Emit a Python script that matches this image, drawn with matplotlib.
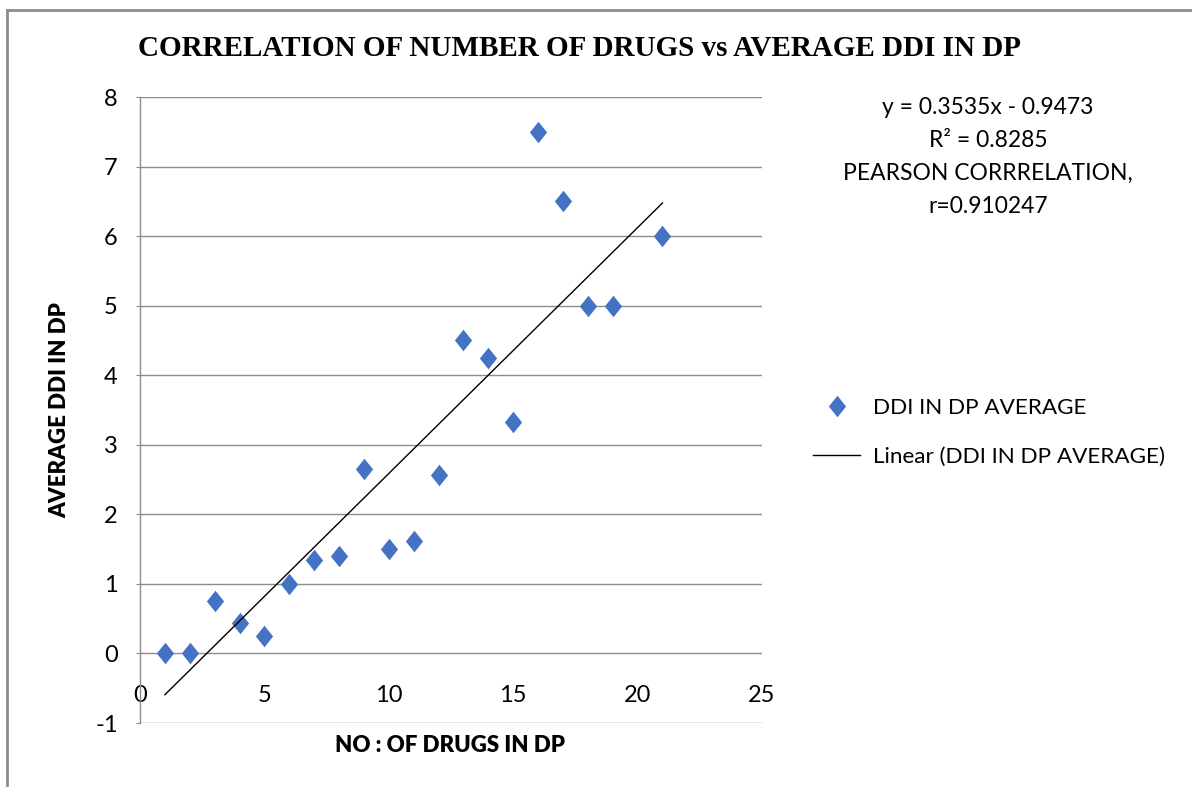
import matplotlib.pyplot as plt
from matplotlib.lines import Line2D
import numpy as np

plt.rcParams["axes.unicode_minus"] = False

# Anzahl Medikamente und mittlere DDI
drugs = [1, 2, 3, 4, 5, 6, 7, 8, 9, 10, 11, 12, 13, 14, 15, 16, 17, 18, 19, 21]
ddi_avg = [0, 0, 0.75, 0.44, 0.25, 1.0, 1.35, 1.4, 2.65, 1.5, 1.62, 2.57,
           4.5, 4.25, 3.33, 7.5, 6.5, 5.0, 5.0, 6.0]

# Trendlinie
slope = 0.3535
intercept = -0.9473
r2 = 0.8285
pearson_r = 0.910247

x_ticks = [0, 5, 10, 15, 20, 25]
y_ticks = [-1, 0, 1, 2, 3, 4, 5, 6, 7, 8]

blue = "#4472C4"
grid_gray = "#8C8C8C"
font = "Lato"

# Raute, etwas höher als breit
diamond = [(0, 1), (0.8, 0), (0, -1), (-0.8, 0), (0, 1)]

fig = plt.figure(figsize=(11.92, 7.87), dpi=100)
ax = fig.add_axes([140 / 1192, 64 / 787, 622 / 1192, 626 / 787])

ax.set_xlim(0, 25)
ax.set_ylim(-1, 8)
ax.set_xticks(x_ticks)
ax.set_yticks(y_ticks)
ax.yaxis.grid(True, color=grid_gray, linewidth=1.0)
ax.set_axisbelow(True)

for s in ["top", "right", "bottom"]:
    ax.spines[s].set_visible(False)
ax.spines["left"].set_color(grid_gray)
ax.spines["left"].set_linewidth(1.0)
ax.spines["bottom"].set_position(("data", 0))

ax.tick_params(axis="y", length=3, color=grid_gray, pad=13, labelsize=17)
ax.tick_params(axis="x", length=0, pad=23, labelsize=17)
for lab in ax.get_xticklabels() + ax.get_yticklabels():
    lab.set_fontfamily(font)

ax.scatter(drugs, ddi_avg, marker=diamond, s=15.5 ** 2, color=blue,
           linewidths=0, zorder=3)

xs = np.array([min(drugs), max(drugs)])
ax.plot(xs, slope * xs + intercept, color="black", linewidth=1.0, zorder=4)

fig.text(580 / 1192, 1 - 48 / 787,
         "CORRELATION OF NUMBER OF DRUGS vs AVERAGE DDI IN DP",
         family="Liberation Serif", weight="bold", size=21,
         ha="center", va="center")

fig.text(450 / 1192, 1 - 745 / 787, "NO : OF DRUGS IN DP",
         family=font, weight="heavy", size=16, ha="center", va="center")
fig.text(60 / 1192, 1 - 410 / 787, "AVERAGE DDI IN DP",
         family=font, weight="heavy", size=16, ha="center", va="center",
         rotation=90)

eq_lines = [f"y = {slope}x - {abs(intercept)}",
            f"R² = {r2}",
            "PEARSON CORRRELATION,",
            f"r={pearson_r}"]
for i, line in enumerate(eq_lines):
    fig.text(988 / 1192, 1 - (108 + i * 32.7) / 787, line,
             family=font, size=16.5, ha="center", va="center")

handles = [
    Line2D([], [], linestyle="none", marker=diamond, markersize=15.5,
           markerfacecolor=blue, markeredgewidth=0),
    Line2D([], [], color="black", linewidth=1.0),
]
fig.legend(handles, ["DDI IN DP AVERAGE", "Linear (DDI IN DP AVERAGE)"],
           loc="upper left", bbox_to_anchor=(813 / 1192, 1 - 398 / 787),
           frameon=False, prop={"family": font, "size": 16.2},
           handlelength=2.1, handletextpad=0.55, labelspacing=1.3,
           borderaxespad=0, borderpad=0)

# Rahmen oben und links
fig.add_artist(Line2D([7.5 / 1192, 7.5 / 1192], [0, 1 - 9.5 / 787],
                      transform=fig.transFigure, color="#8C8C8C", linewidth=2))
fig.add_artist(Line2D([7.5 / 1192, 1], [1 - 9.5 / 787, 1 - 9.5 / 787],
                      transform=fig.transFigure, color="#8C8C8C", linewidth=2))

fig.savefig("out.png", dpi=100, facecolor="white")
